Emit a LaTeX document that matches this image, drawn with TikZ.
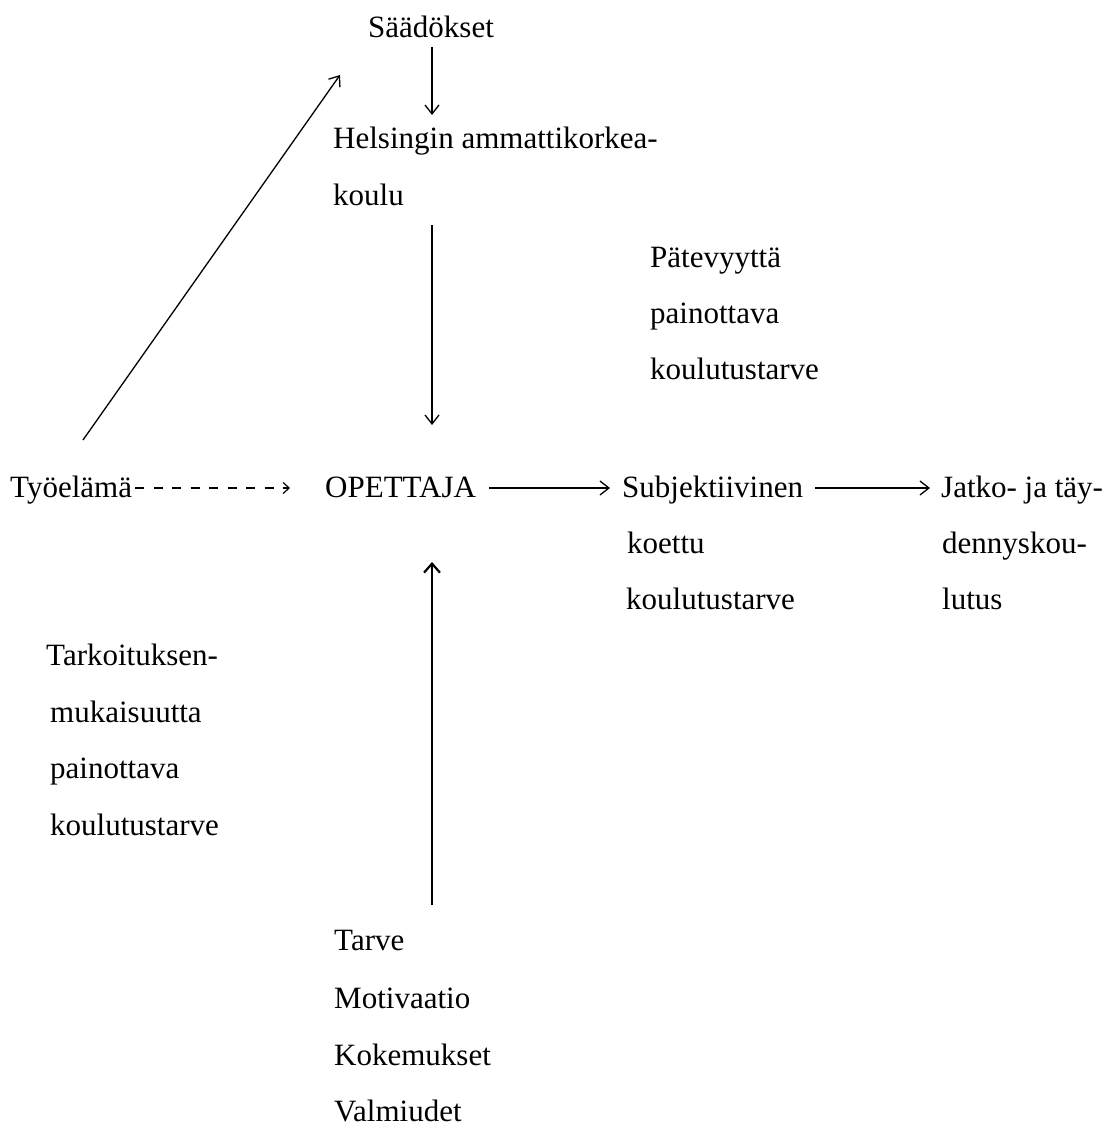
\documentclass[tikz,border=0pt]{standalone}
\usepackage{fontspec}
\setmainfont{Liberation Serif}
\usetikzlibrary{arrows.meta,calc}
\begin{document}
\begin{tikzpicture}[x=1pt,y=-1pt,
  lbl/.style={inner sep=0pt,anchor=base west,font=\fontsize{31}{36}\selectfont},
  arr/.style={line width=1.3pt,-{Straight Barb[length=9pt,width=14pt,line width=1.3pt]}},
  darr/.style={line width=1.3pt,dash pattern=on 9pt off 9.5pt,-{Straight Barb[length=6pt,width=11pt,line width=1.2pt]}},
  uarr/.style={line width=2pt,-{Straight Barb[length=9pt,width=16pt,line width=2.2pt]}}]
\useasboundingbox (0,0) rectangle (1107,1126);
% nodes
\node[lbl] (saad) at (368,38) {Säädökset};
\node[lbl] (hel) at (333,149) {Helsingin ammattikorkea-};
\node[lbl] (koulu) at (333,205) {koulu};
\node[lbl] (pat1) at (650,267) {Pätevyyttä};
\node[lbl] (pat2) at (650,323) {painottava};
\node[lbl] (pat3) at (650,379) {koulutustarve};
\node[lbl] (tyo) at (10,497) {Työelämä};
\node[lbl] (ope) at (325,497) {OPETTAJA};
\node[lbl] (subj) at (622,497) {Subjektiivinen};
\node[lbl] (koe) at (627,553) {koettu};
\node[lbl] (kt) at (626,609) {koulutustarve};
\node[lbl] (jatko) at (941,497) {Jatko- ja täy-};
\node[lbl] (denny) at (942,553) {dennyskou-};
\node[lbl] (lutus) at (942,609) {lutus};
\node[lbl] (tark1) at (46,665) {Tarkoituksen-};
\node[lbl] (tark2) at (50,722) {mukaisuutta};
\node[lbl] (tark3) at (50,778) {painottava};
\node[lbl] (tark4) at (50,835) {koulutustarve};
\node[lbl] (tarve) at (334,950) {Tarve};
\node[lbl] (moti) at (334,1008) {Motivaatio};
\node[lbl] (koke) at (334,1065) {Kokemukset};
\node[lbl] (valm) at (334,1121) {Valmiudet};
% connector end points
\coordinate (s1) at (432,47);
\coordinate (e1) at (432,115);
\coordinate (s2) at (432,225);
\coordinate (e2) at (432,425);
\coordinate (s3) at (432,905);
\coordinate (e3) at (432,562);
\coordinate (s4) at (83,440);
\coordinate (e4) at (340,75);
% connectors
\draw[arr] (s1) -- (e1);
\draw[arr] (s2) -- (e2);
\draw[uarr] (s3) -- (e3);
\draw[arr] (s4) -- (e4);
\draw[darr] ($(tyo.base east)+(3,-9)$) -- ($(ope.base west)+(-35,-9)$);
\draw[arr] ($(ope.base east)+(13,-9)$) -- ($(subj.base west)+(-12,-9)$);
\draw[arr] ($(subj.base east)+(12,-9)$) -- ($(jatko.base west)+(-11,-9)$);
\end{tikzpicture}
\end{document}
